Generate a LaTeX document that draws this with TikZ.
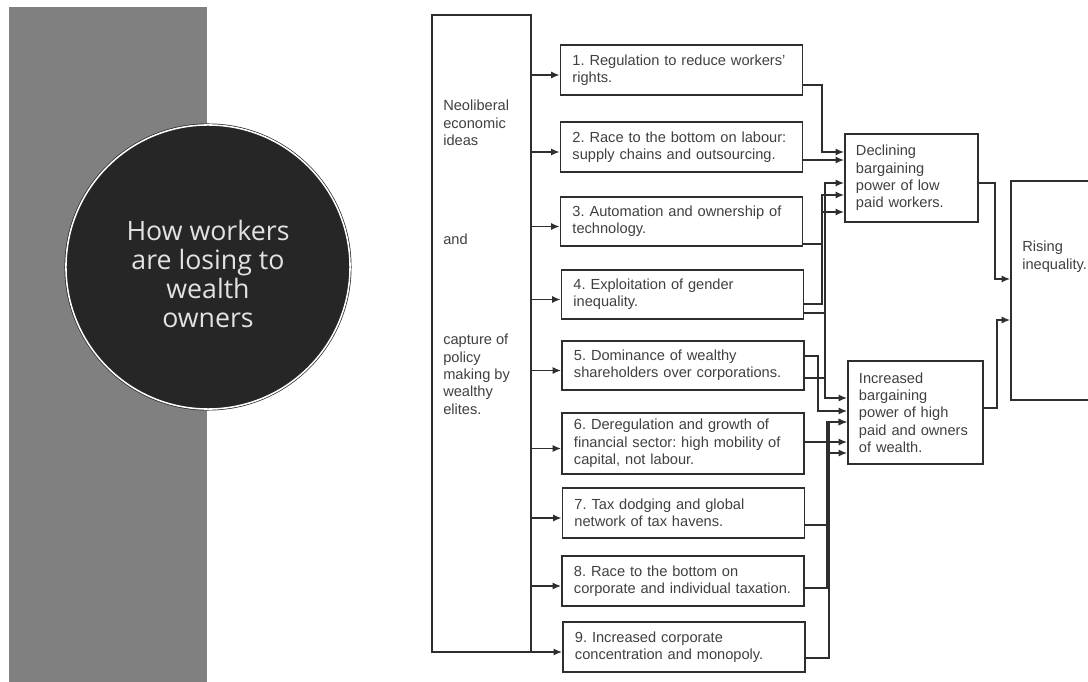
\documentclass[tikz,border=0pt]{standalone}
\usepackage{fontspec}
\setmainfont{Liberation Sans}
\newfontfamily\discfont{Open Sans}
\usetikzlibrary{arrows.meta,calc}

\definecolor{stripgray}{HTML}{808080}
\definecolor{discdark}{HTML}{262626}
\definecolor{disctext}{HTML}{E2E2E2}
\definecolor{inkline}{HTML}{2E2E2E}
\definecolor{inktext}{HTML}{404040}

\begin{document}
\begin{tikzpicture}[
  x=0.025cm, y=-0.025cm,
  box/.style={draw=inkline, line width=1.3pt, align=left, text=inktext,
              font=\fontsize{10.4}{12.3}\selectfont\frenchspacing, inner xsep=0pt},
  cause/.style={box, minimum width=6.05cm, minimum height=1.25cm,
              text width=5.45cm},
  effect/.style={box, minimum height=2.2cm},
  lbl/.style={text=inktext, font=\fontsize{10.4}{12.3}\selectfont\frenchspacing,
              align=left, inner sep=0pt, anchor=north west},
  disc/.style={circle, fill=discdark, draw=discdark, double=white,
              double distance=1.1pt, line width=0.5pt, minimum size=7.1cm},
  disclbl/.style={text=disctext, align=center, inner sep=0pt,
              font=\discfont\fontsize{19}{20.8}\selectfont},
  arr/.style={draw=inkline, line width=1pt, -{Latex[length=6pt,width=5pt]}},
]
\useasboundingbox (0,0) rectangle (1088,682);
\fill[white] (0,0) rectangle (1088,682);

% === Left: title panel ===
\fill[stripgray] (9,7) rectangle (207,682);
\node[disc] (title) at (208,267) {};
\node[disclbl] (titleT) at (208,274) {How workers\\are losing to\\wealth\\owners};

% === Source box ===
\node[box, minimum width=2.475cm, minimum height=15.925cm] (src) at (481.5,333.5) {};
\node[lbl] (srcA) at (443,100) {Neoliberal\\economic\\ideas};
\node[lbl] (srcB) at (443,234) {and};
\node[lbl] (srcC) at (443,334) {capture of\\policy\\making by\\wealthy\\elites.};

% === Causes ===
\node[cause] (c1) at (681.5,70) {1. Regulation to reduce workers'\\rights.};
\node[cause] (c2) at (681.5,147) {2. Race to the bottom on labour:\\supply chains and outsourcing.};
\node[cause, minimum height=1.225cm] (c3) at (681.5,221.5) {3. Automation and ownership of\\technology.};
\node[cause, minimum height=1.225cm] (c4) at (682.5,294.5) {4. Exploitation of gender\\inequality.};
\node[cause, minimum height=1.225cm] (c5) at (683,365.5) {5. Dominance of wealthy\\shareholders over corporations.};
\node[cause, minimum height=1.525cm] (c6) at (683,443.5) {6. Deregulation and growth of\\financial sector: high mobility of\\capital, not labour.};
\node[cause] (c7) at (683.5,513) {7. Tax dodging and global\\network of tax havens.};
\node[cause] (c8) at (683,581) {8. Race to the bottom on\\corporate and individual taxation.};
\node[cause] (c9) at (684,647) {9. Increased corporate\\concentration and monopoly.};

% === Effects ===
\node[effect, minimum width=3.325cm, text width=2.775cm] (decl) at (911.5,178)
  {Declining\\bargaining\\power of low\\paid workers.};
\node[effect, minimum width=3.375cm, minimum height=2.575cm, text width=2.825cm] (incr) at (915.5,412.5)
  {Increased\\bargaining\\power of high\\paid and owners\\of wealth.};
\node[box, minimum width=2.975cm, minimum height=5.475cm] (rise) at (1070.5,290.5) {};
\node[lbl] (riseT) at (1022,241) {Rising\\inequality.};

% Arrows into causes
\foreach \i in {1,...,9}
  \draw[arr] ($(src.east |- c\i.west)+(0,5)$) -- ($(c\i.west)+(0,5)$);

% Causes to effects
\draw[arr] (c1.east |- 0,85) -| (822,152) -- (decl.west |- 0,152);
\draw[arr] (c2.east |- 0,160) -- (decl.west |- 0,160);
\draw[arr] (c3.east |- 0,244) -| (822,212) -- (decl.west |- 0,212);
\draw[arr] (c4.east |- 0,304) -| (822,195) -- (decl.west |- 0,195);
\draw[arr] (c5.east |- 0,378) -| (825,183) -- (decl.west |- 0,183);
\draw[arr] (c4.east |- 0,313) -| (825,398) -- (incr.west |- 0,398);
\draw[arr] (c5.east |- 0,356) -| (818,411) -- (incr.west |- 0,411);
\draw[arr] (c6.east |- 0,442) -- (incr.west |- 0,442);
\draw[arr] (c7.east |- 0,525) -| (827,453) -- (incr.west |- 0,453);
\draw[arr] (c8.east |- 0,588) -| (827,422) -- (incr.west |- 0,422);
\draw[arr] (c9.east |- 0,658) -| (829,422) -- (incr.west |- 0,422);

% Effects to outcome
\draw[arr] (decl.east |- 0,183) -| (995,279) -- (rise.west |- 0,279);
\draw[arr] (incr.east |- 0,408) -| (997,320) -- (rise.west |- 0,320);

\end{tikzpicture}
\end{document}
